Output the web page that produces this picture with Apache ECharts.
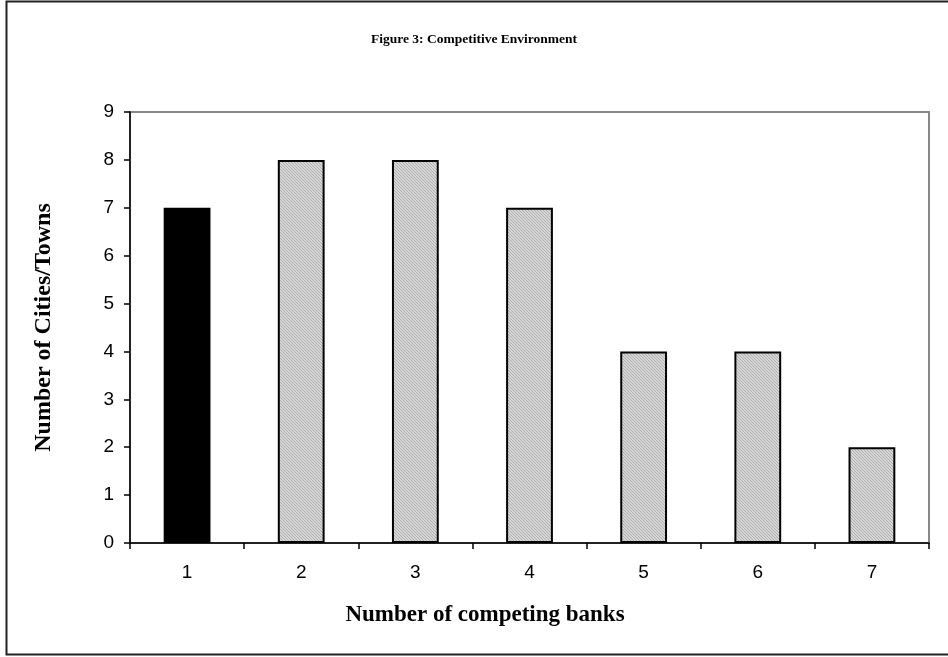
<!DOCTYPE html>
<html>
<head>
<meta charset="utf-8">
<script src="https://cdn.jsdelivr.net/npm/echarts@6/dist/echarts.min.js"></script>
<style>
html,body{margin:0;padding:0;background:#fff;}
#chart{width:948px;height:657px;}
</style>
</head>
<body>
<div id="chart"></div>
<script>
const titleText = 'Figure 3: Competitive Environment';
const xAxisName = 'Number of competing banks';
const yAxisName = 'Number of Cities/Towns';
const categories = ['1', '2', '3', '4', '5', '6', '7'];
const values = [7, 8, 8, 7, 4, 4, 2];

function makePattern() {
  const c = document.createElement('canvas');
  c.width = 3; c.height = 3;
  const ctx = c.getContext('2d');
  ctx.fillStyle = '#d6d6d6';
  ctx.fillRect(0, 0, 3, 3);
  ctx.fillStyle = '#b0b0b0';
  for (let i = 0; i < 3; i++) {
    ctx.fillRect(i, i, 1, 1);
  }
  return c;
}
const pattern = makePattern();

const chart = echarts.init(document.getElementById('chart'));
chart.setOption({
  animation: false,
  backgroundColor: '#fff',
  title: {
    text: titleText,
    left: 'center',
    top: 28,
    textStyle: { fontFamily: 'Liberation Serif', fontWeight: 'bold', fontSize: 13.5, color: '#000' }
  },
  graphic: [{
    type: 'rect',
    shape: { x: 6.5, y: 1.5, width: 960, height: 653 },
    style: { fill: 'none', stroke: '#222', lineWidth: 2 },
    silent: true, z: 100
  }, {
    type: 'text',
    x: 485, y: 615,
    style: {
      text: xAxisName, align: 'center', verticalAlign: 'middle',
      font: 'bold 23px "Liberation Serif"', fill: '#000'
    },
    silent: true
  }],
  grid: {
    left: 130, right: 19, top: 112, bottom: 114,
    show: true, borderColor: '#888', borderWidth: 2, backgroundColor: 'transparent'
  },
  xAxis: {
    type: 'category',
    data: categories,
    axisLine: { lineStyle: { color: '#000', width: 1.5 } },
    axisTick: { show: true, inside: false, length: 6, lineStyle: { color: '#000', width: 1.5 } },
    axisLabel: { fontFamily: 'Liberation Sans', fontSize: 19, color: '#000', margin: 20 }
  },
  yAxis: {
    type: 'value',
    min: 0, max: 9, interval: 1,
    name: yAxisName,
    nameLocation: 'middle',
    nameGap: 74,
    nameTextStyle: { fontFamily: 'Liberation Serif', fontWeight: 'bold', fontSize: 24, color: '#000' },
    axisLine: { show: true, lineStyle: { color: '#000', width: 1.5 } },
    axisTick: { show: true, inside: false, length: 6, lineStyle: { color: '#000', width: 1.5 } },
    splitLine: { show: false },
    axisLabel: { fontFamily: 'Liberation Sans', fontSize: 19, color: '#000', margin: 16 }
  },
  series: [{
    type: 'bar',
    data: values.map((v, i) => ({
      value: v,
      itemStyle: i === 0
        ? { color: '#000', borderColor: '#000', borderWidth: 2 }
        : { color: { image: pattern, repeat: 'repeat' }, borderColor: '#000', borderWidth: 2 }
    })),
    barWidth: '41%'
  }]
});
</script>
</body>
</html>
